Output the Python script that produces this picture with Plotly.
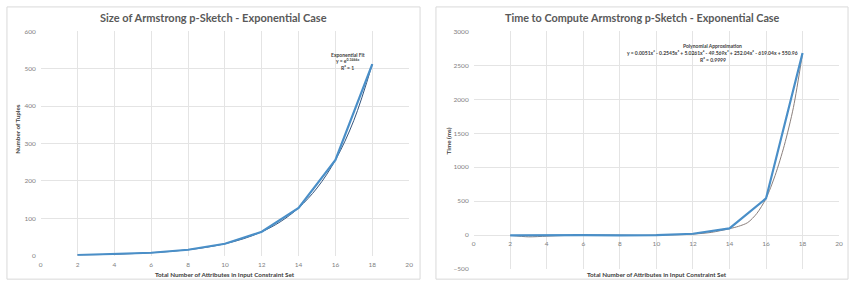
import plotly.graph_objects as go

# Left chart: size of sketch
size_x = [2, 4, 6, 8, 10, 12, 14, 16, 18]
size_y = [2, 4, 8, 16, 32, 64, 128, 256, 512]
size_fit_x = [2, 3, 4, 5, 6, 7, 8, 9, 10, 11, 12, 13, 14, 15, 16, 17, 18]
size_fit_y = [2, 2.8, 4, 5.7, 8, 11.3, 16, 22.6, 32, 45.3, 64, 90.5, 128, 181, 256, 362, 512]

# Right chart: time to compute
time_x = [2, 4, 6, 8, 10, 12, 14, 16, 18]
time_y = [-5, 0, 0, -5, 0, 20, 100, 540, 2680]
time_fit_x = [2, 3, 4, 5, 6, 7, 8, 9, 10, 11, 12, 13, 14, 14.5, 15, 15.5, 16, 16.5, 17, 17.5, 18]
time_fit_y = [-3, -25, -15, -5, 0, 2, 0, -3, 0, 5, 15, 40, 95, 130, 185, 320, 540, 880, 1320, 1880, 2680]

x_ticks = [0, 2, 4, 6, 8, 10, 12, 14, 16, 18, 20]

FONT = "Lato"
TICK = dict(family=FONT, size=6.5, color="#7f7f7f")
GRID = "#e4e4e4"
BLUE = "#4a8fc8"

fig = go.Figure()
fig.add_trace(go.Scatter(x=size_fit_x, y=size_fit_y, mode="lines", line=dict(color="#34557e", width=1, shape="spline"),
                         xaxis="x", yaxis="y", showlegend=False))
fig.add_trace(go.Scatter(x=size_x, y=size_y, mode="lines", line=dict(color=BLUE, width=2.2),
                         xaxis="x", yaxis="y", showlegend=False))
fig.add_trace(go.Scatter(x=time_fit_x, y=time_fit_y, mode="lines", line=dict(color="#8a7f7c", width=1, shape="spline", smoothing=0.8),
                         xaxis="x2", yaxis="y2", showlegend=False))
fig.add_trace(go.Scatter(x=time_x, y=time_y, mode="lines", line=dict(color=BLUE, width=2.2),
                         xaxis="x2", yaxis="y2", showlegend=False))

W, H = 857, 288
def px(x):
    return x / W
def py(y):
    return 1 - y / H

common_x = dict(range=[0, 20], tickvals=x_ticks, showgrid=True, gridcolor=GRID, gridwidth=1,
                zeroline=False, showline=False, ticks="", tickfont=TICK)
common_y = dict(showgrid=True, gridcolor=GRID, gridwidth=1, zeroline=False, showline=False,
                ticks="", tickfont=TICK, ticklabelstandoff=4)

fig.update_layout(
    width=W, height=H, margin=dict(l=0, r=0, t=0, b=0),
    paper_bgcolor="white", plot_bgcolor="white",
    xaxis=dict(domain=[px(39), px(410)], anchor="y", **common_x, ticklabelstandoff=4),
    yaxis=dict(domain=[py(258), py(28)], anchor="x", range=[0, 600], tickvals=[0, 100, 200, 300, 400, 500, 600], **common_y),
    xaxis2=dict(domain=[px(475), px(843)], anchor="free", position=py(237.3), **common_x, ticklabelstandoff=3),
    yaxis2=dict(domain=[py(271.7), py(28)], anchor="x2", range=[-500, 3000],
                tickvals=[-500, 0, 500, 1000, 1500, 2000, 2500, 3000], **common_y),
)

shapes = []
for x0, x1 in [(5, 421), (437, 852)]:
    shapes.append(dict(type="rect", xref="paper", yref="paper", x0=px(x0), x1=px(x1), y0=py(282), y1=py(3),
                       line=dict(color="#d9d9d9", width=1), fillcolor="rgba(0,0,0,0)", layer="below"))
fig.update_layout(shapes=shapes)

ann = []
def add(text, x, y, size, bold=True, color="#595959", angle=0):
    ann.append(dict(text=f"<b>{text}</b>" if bold else text, x=px(x), y=py(y), xref="paper", yref="paper",
                    showarrow=False, xanchor="center", yanchor="middle", textangle=angle,
                    font=dict(family=FONT, size=size, color=color)))

add("Size of Armstrong p-Sketch - Exponential Case", 213, 14, 11)
add("Time to Compute Armstrong p-Sketch - Exponential Case", 645, 14, 10.8)
add("Total Number of Attributes in Input Constraint Set", 225, 277, 6.3, color="#404040")
add("Total Number of Attributes in Input Constraint Set", 660, 277, 6.3, color="#404040")
add("Number of Tuples", 16, 128, 6.3, color="#404040", angle=-90)
add("Time (ms)", 450, 140, 6.3, color="#404040", angle=-90)
add("Exponential Fit", 348, 52, 5, color="#404040")
add("y = e<sup>0.3466x</sup>", 348, 58.5, 5, color="#404040")
add("R² = 1", 348, 65.5, 5, color="#404040")
add("Polynomial Approximation", 716, 43, 5, color="#404040")
add("y = 0.0051x⁶ - 0.2545x⁵ + 5.0261x⁴ - 49.569x³ + 252.04x² - 619.04x + 550.96", 716, 50.5, 5, color="#404040")
add("R² = 0.9999", 716, 57.5, 5, color="#404040")
fig.update_layout(annotations=ann)

fig.write_html("out.html")
